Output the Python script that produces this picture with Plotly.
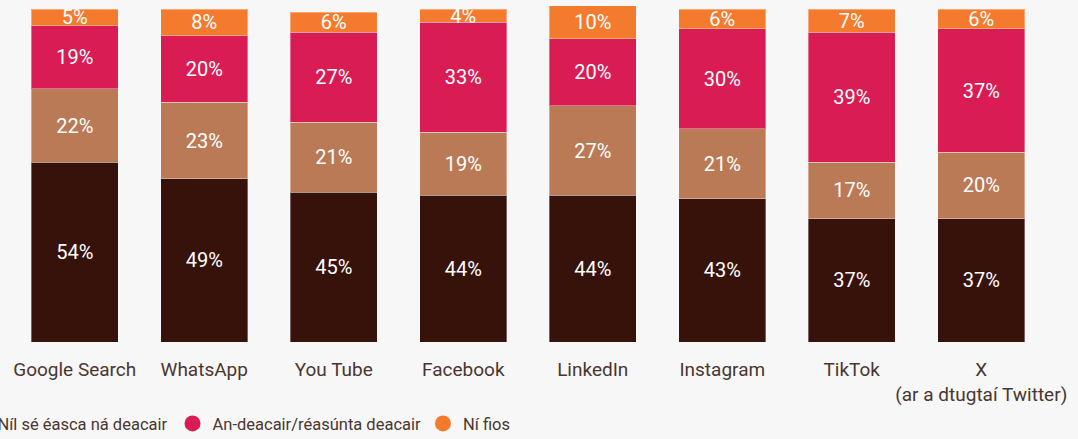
import plotly.graph_objects as go

categories = ["Google Search", "WhatsApp", "You Tube", "Facebook", "LinkedIn",
              "Instagram", "TikTok", "X<br>(ar a dtugtaí Twitter)"]
easy = [54, 49, 45, 44, 44, 43, 37, 37]
neither = [22, 23, 21, 19, 27, 21, 17, 20]
difficult = [19, 20, 27, 33, 20, 30, 39, 37]
dont_know = [5, 8, 6, 4, 10, 6, 7, 6]

series = [
    ("An-éasca/réasúnta éasca", easy, "#37120a", "legend"),
    ("Níl sé éasca ná deacair", neither, "#ba7a56", "legend"),
    ("An-deacair/réasúnta deacair", difficult, "#d91c53", "legend"),
    ("Ní fios", dont_know, "#f47b2e", "legend2"),
]

font_family = "Roboto"
text_color = "#4a3630"

fig = go.Figure()
for name, vals, color, lg in series:
    fig.add_trace(go.Bar(
        x=categories, y=vals, name=name, showlegend=False,
        marker=dict(color=color, line=dict(color="rgba(255,255,255,0.35)", width=1)),
        text=[f"{v}%" for v in vals],
        textposition="inside", insidetextanchor="middle",
        textfont=dict(color="white", size=20, family=font_family),
        constraintext="none",
        hoverinfo="skip",
    ))
for name, vals, color, lg in series:
    fig.add_trace(go.Scatter(
        x=[None], y=[None], mode="markers", name=name, legend=lg,
        marker=dict(color=color, size=16, symbol="circle"),
        showlegend=True, hoverinfo="skip",
    ))

legend_common = dict(
    orientation="h", xanchor="left", y=-0.19, yanchor="top",
    font=dict(size=16.5, color=text_color), bgcolor="rgba(0,0,0,0)",
    traceorder="normal", itemsizing="trace",
)

fig.update_layout(
    barmode="stack",
    bargap=0.33,
    width=1078, height=439,
    margin=dict(l=10, r=32, t=4, b=97, autoexpand=False),
    paper_bgcolor="#f7f7f7",
    plot_bgcolor="#f7f7f7",
    font=dict(family=font_family, color=text_color, size=19),
    showlegend=True,
    legend=dict(x=-0.275, **legend_common),
    legend2=dict(x=0.3986, **legend_common),
    xaxis=dict(showgrid=False, zeroline=False, showline=False, ticks="",
               tickangle=0, automargin=False,
               ticklabelstandoff=14, tickfont=dict(size=19, color=text_color)),
    yaxis=dict(visible=False, range=[0, 101.5], fixedrange=True),
)

fig.write_html("out.html", config={"displayModeBar": False},
               post_script="document.body.style.margin='0';document.body.style.background='#f7f7f7';")
